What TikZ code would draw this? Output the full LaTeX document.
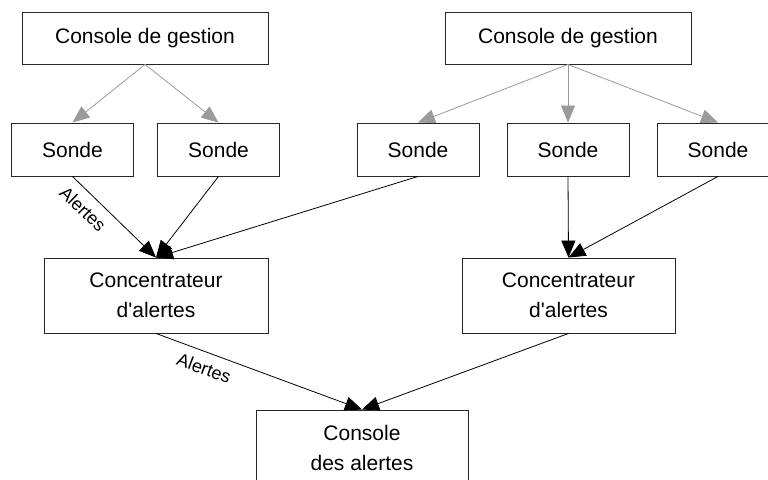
\documentclass[tikz,border=0pt]{standalone}
\usepackage{fontspec}
\setmainfont{Liberation Sans}
\usetikzlibrary{arrows.meta}
\definecolor{arrowgray}{HTML}{9A9A9A}
\begin{document}
\begin{tikzpicture}[x=1pt,y=1pt,
  box/.style={draw=black!85, line width=0.9pt, fill=white, inner sep=0pt, align=center,
    font=\fontsize{21}{30}\selectfont},
  console/.style={box, minimum width=246pt, minimum height=52pt},
  sondebox/.style={box, minimum width=122pt, minimum height=53pt},
  concbox/.style={box, minimum height=75pt},
  mgmt/.style={draw=arrowgray, line width=0.8pt, -{Triangle[length=17pt,width=14pt]}, arrowgray},
  alert/.style={draw=black, line width=0.8pt, -{Triangle[length=17pt,width=14pt]}},
  lbl/.style={font=\fontsize{18}{20}\selectfont, sloped, below, inner sep=9pt, pos=0.26}]
\clip (0,0) rectangle (768,-479);
\useasboundingbox (0,0) rectangle (768,-479);
% top consoles
\node[console] (c1) at (145,-38) {Console de gestion};
\node[console] (c2) at (568,-38) {Console de gestion};
% sondes
\node[sondebox] (s1) at (72.5,-149.5) {Sonde};
\node[sondebox] (s2) at (218.5,-149.5) {Sonde};
\node[sondebox] (s3) at (418,-149.5) {Sonde};
\node[sondebox] (s4) at (568,-149.5) {Sonde};
\node[sondebox] (s5) at (718,-149.5) {Sonde};
% concentrators
\node[concbox, minimum width=224pt] (k1) at (156,-295.5) {Concentrateur\\d\textquotesingle alertes};
\node[concbox, minimum width=213pt] (k2) at (568.5,-295.5) {Concentrateur\\d\textquotesingle alertes};
% bottom console
\node[concbox, minimum width=212pt] (b) at (362,-447.5) {Console\\des alertes};
% management arrows
\draw[mgmt] (c1.south) -- (s1.north);
\draw[mgmt] (c1.south) -- (s2.north);
\draw[mgmt] (c2.south) -- (s3.north);
\draw[mgmt] (c2.south) -- (s4.north);
\draw[mgmt] (c2.south) -- (s5.north);
% alert arrows
\draw[alert] (s1.south) -- node[lbl] {Alertes} (k1.north);
\draw[alert] (s2.south) -- (k1.north);
\draw[alert] (s3.south) -- (k1.north);
\draw[alert] (s4.south) -- (k2.north);
\draw[alert] (s5.south) -- (k2.north);
\draw[alert] (k1.south) -- node[lbl] {Alertes} (b.north);
\draw[alert] (k2.south) -- (b.north);
\end{tikzpicture}
\end{document}
